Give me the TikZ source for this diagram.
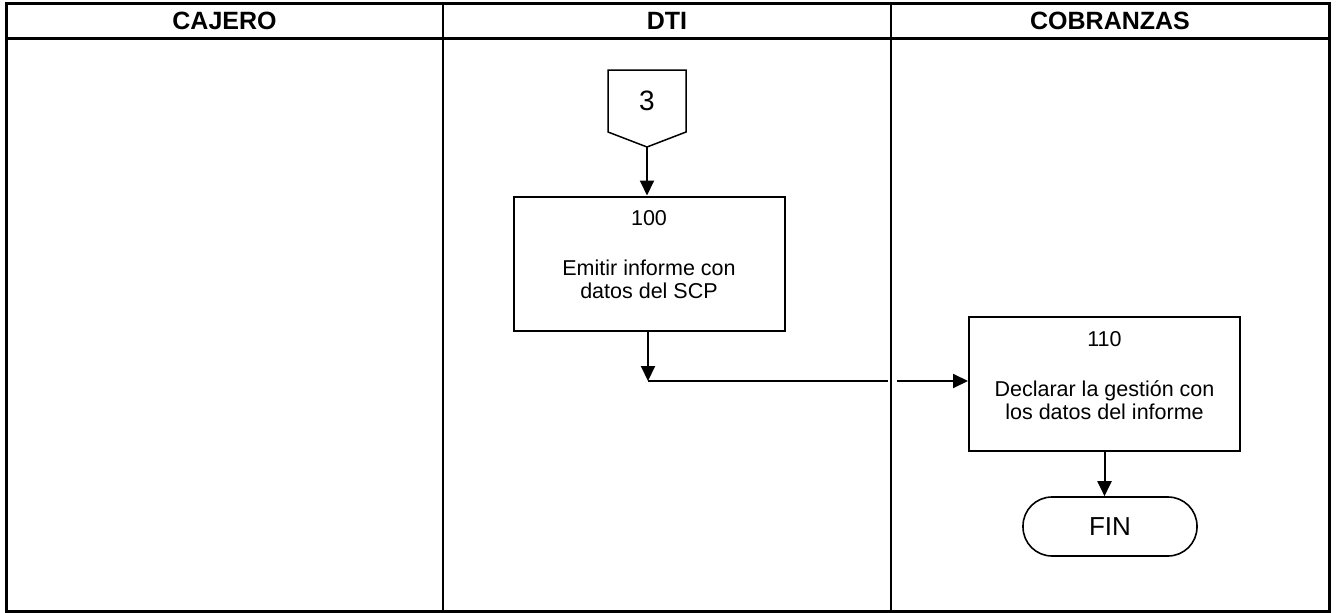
\documentclass[tikz,border=0pt]{standalone}
\usepackage{fontspec}
\setmainfont{Liberation Sans}
\usepackage{tikz}
\usetikzlibrary{arrows.meta,positioning,calc}

\begin{document}
\begin{tikzpicture}[
    x=1pt, y=-1pt,
    lanehead/.style={font=\bfseries\fontsize{25}{29}\selectfont, text=black},
    procbox/.style={draw=black, line width=2pt, minimum width=271pt, minimum height=134pt, inner sep=0pt},
    proctext/.style={font=\fontsize{21.5}{23}\selectfont, align=center, text=black},
    termbox/.style={draw=black, line width=1.6pt, rounded corners=29pt, minimum width=174pt, minimum height=59pt, font=\fontsize{26}{30}\selectfont},
    flow/.style={line width=2pt, -{Triangle[length=15pt,width=14pt]}},
    wire/.style={line width=2pt}
]
    \useasboundingbox (0,0) rectangle (1336,613);

    % Swimlanes
    \draw[line width=3pt] (6,3) rectangle (1329,611);
    \draw[line width=3pt] (6,38) -- (1329,38);
    \foreach \x in {443, 891} {
        \draw[line width=2pt] (\x,3) -- (\x,611);
    }
    \node[lanehead] (h_caj) at (224.5,21) {CAJERO};
    \node[lanehead] (h_dti) at (667,21) {DTI};
    \node[lanehead] (h_cob) at (1110,21) {COBRANZAS};

    % Off-page connector 3
    \draw[line width=1.5pt] (608,70) -- (686,70) -- (686,132) -- (647,147) -- (608,132) -- cycle;
    \node[font=\fontsize{28}{32}\selectfont] (c3) at (647,101) {3};
    \coordinate (c3tip) at (647,147);

    % DTI: 100
    \node[procbox] (p100) at (649,263.5) {};
    \node[proctext] (n100) at ($(p100.north)+(0,23)$) {100};
    \node[proctext] (d100) at ($(p100.north)+(0,84)$) {Emitir informe con\\datos del SCP};

    % COBRANZAS: 110
    \node[procbox] (p110) at (1104.5,384) {};
    \node[proctext] (n110) at ($(p110.north)+(0,23)$) {110};
    \node[proctext] (d110) at ($(p110.north)+(0,84)$) {Declarar la gestión con\\los datos del informe};

    % End
    \node[termbox] (fin) at (1110,526.5) {FIN};

    % Connectors
    \coordinate (j1) at (648,381);
    \coordinate (j2) at (888,381);
    \coordinate (j3) at (897,381);

    \draw[flow] (c3tip) -- (c3tip |- p100.north);
    \draw[flow] (p100.south -| j1) -- (j1);
    \draw[wire] (j1) -- (j2);
    \draw[flow] (j3) -- (j3 -| p110.west);
    \draw[flow] (p110.south) -- (p110.south |- fin.north);

\end{tikzpicture}
\end{document}
